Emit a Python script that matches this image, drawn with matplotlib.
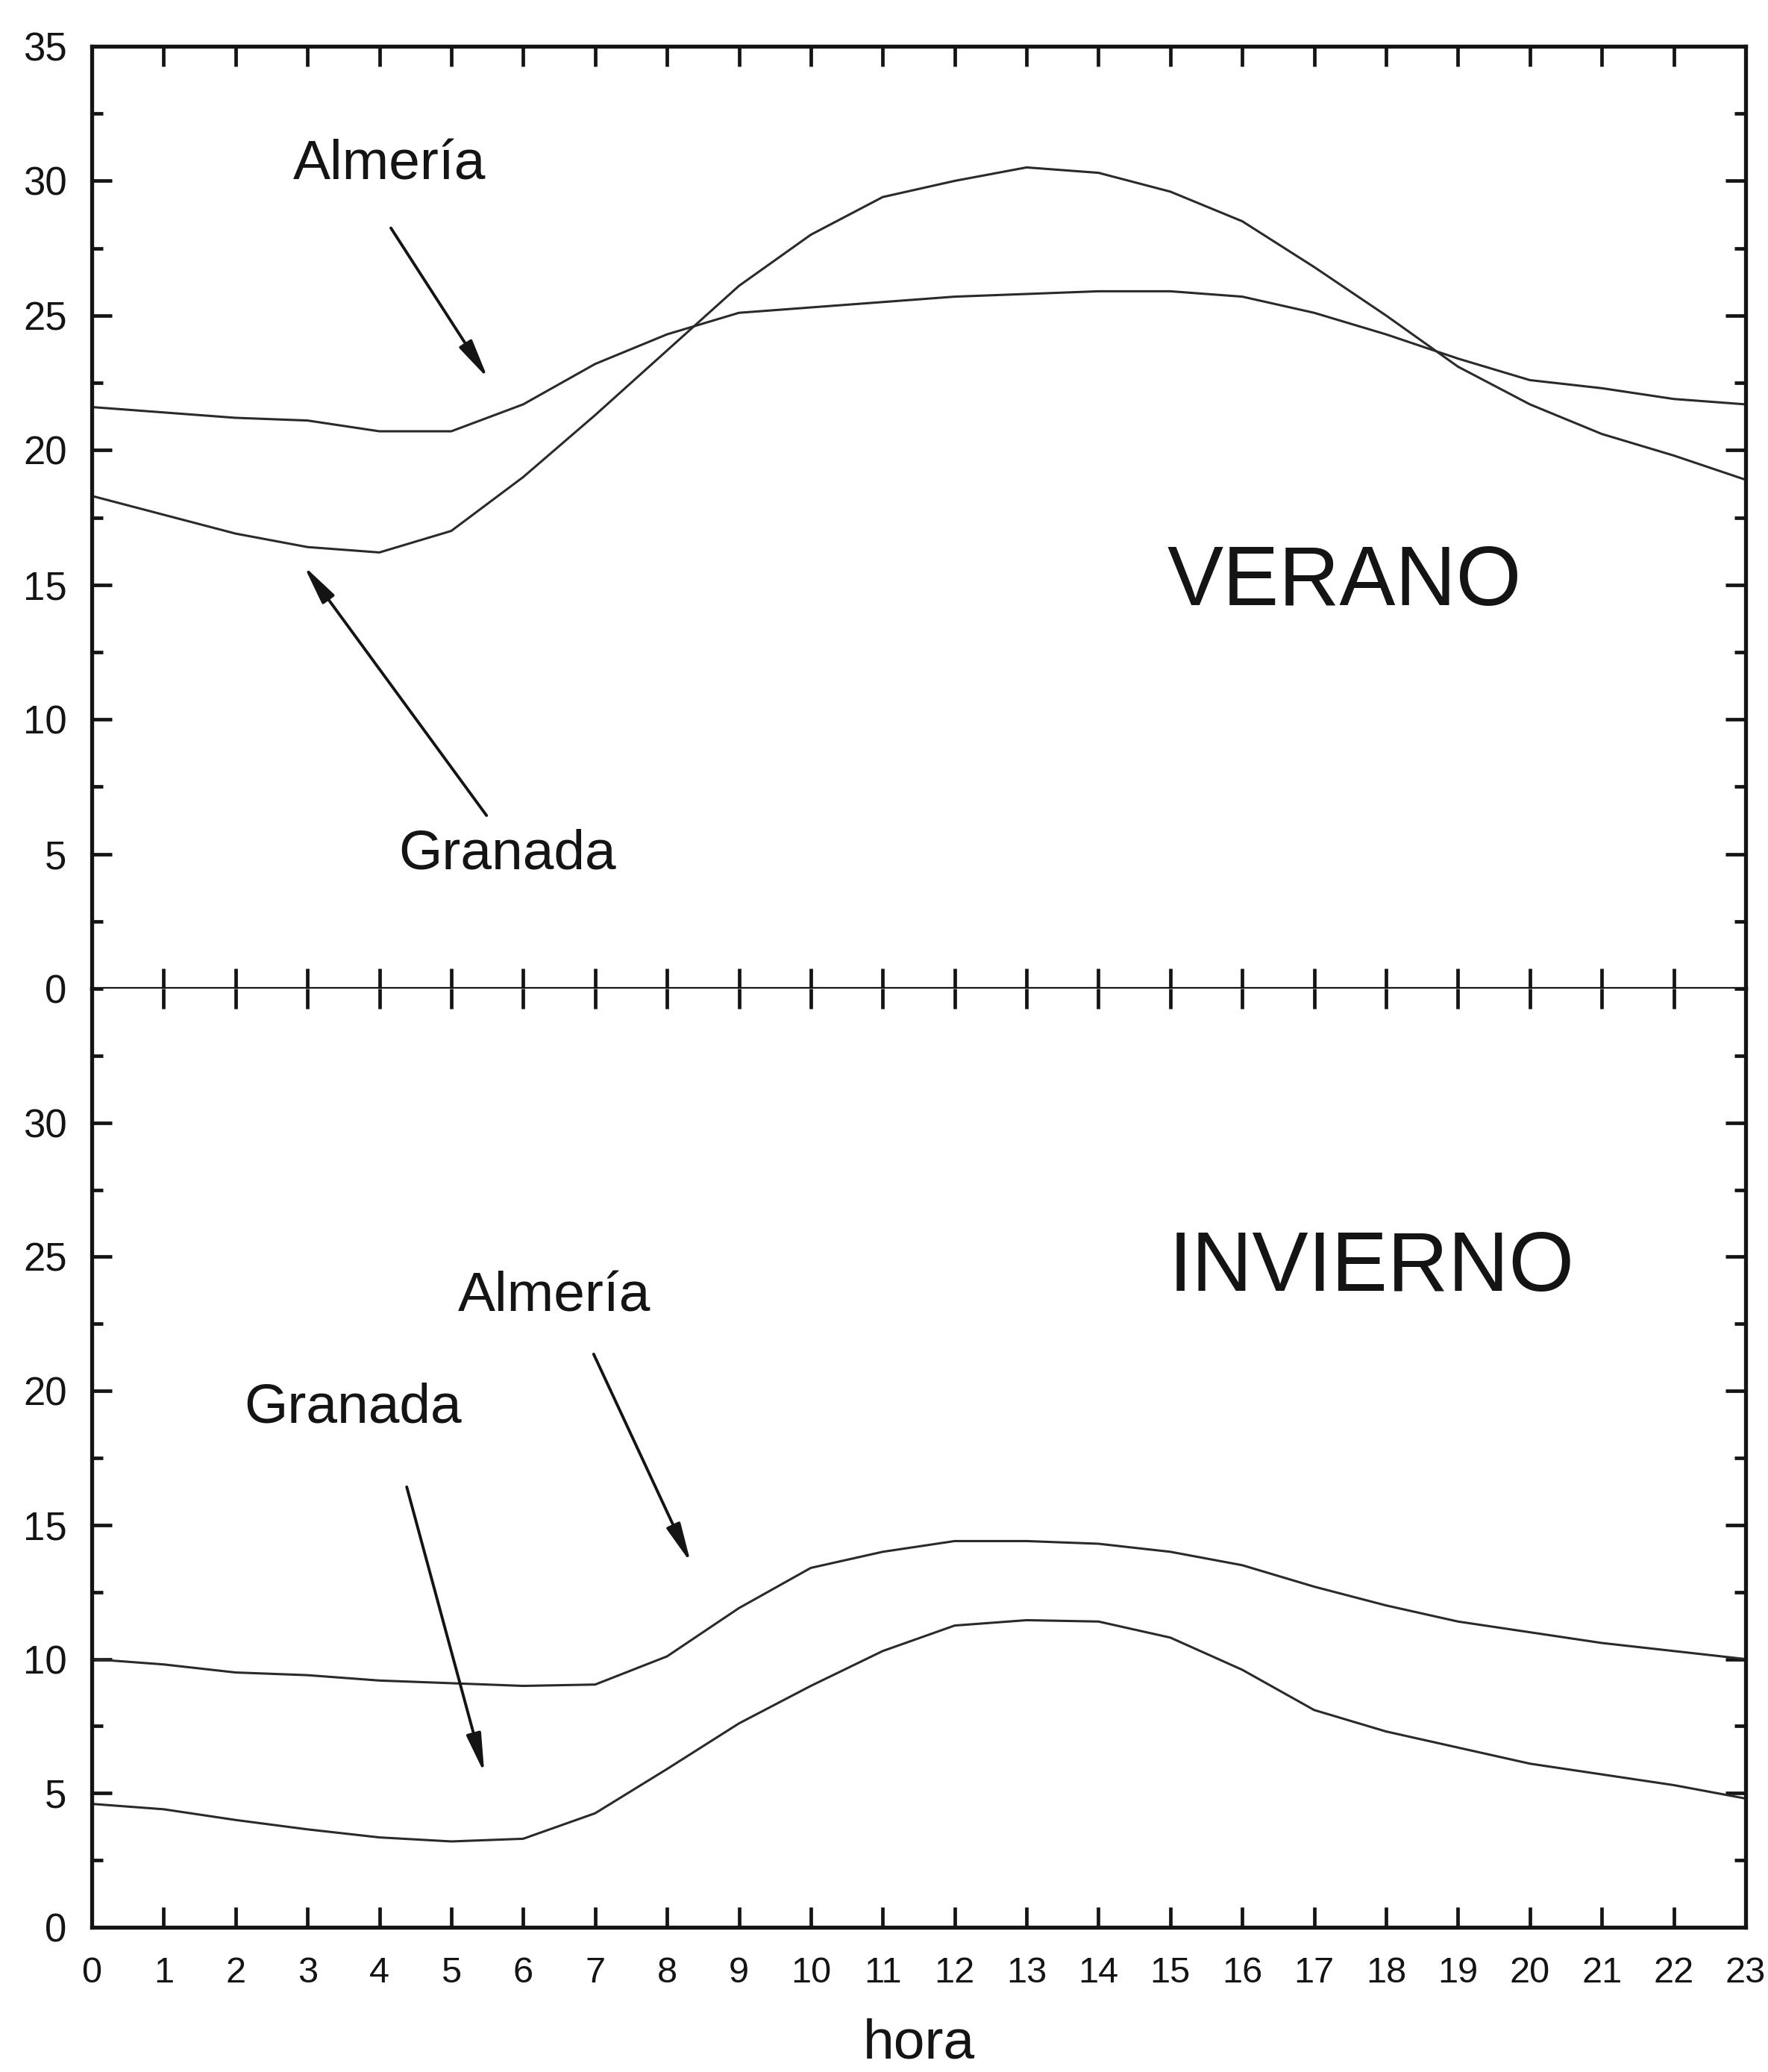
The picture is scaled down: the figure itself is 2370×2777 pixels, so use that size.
import matplotlib.pyplot as plt
from matplotlib.ticker import MultipleLocator

plt.rcParams['font.family'] = ['Liberation Sans', 'DejaVu Sans']

hora = list(range(24))

# verano (summer) temperatures by hour
almeria_verano = [21.6, 21.4, 21.2, 21.1, 20.7, 20.7, 21.7, 23.2, 24.3, 25.1, 25.3, 25.5,
                  25.7, 25.8, 25.9, 25.9, 25.7, 25.1, 24.3, 23.4, 22.6, 22.3, 21.9, 21.7]
granada_verano = [18.3, 17.6, 16.9, 16.4, 16.2, 17.0, 19.0, 21.3, 23.7, 26.1, 28.0, 29.4,
                  30.0, 30.5, 30.3, 29.6, 28.5, 26.8, 25.0, 23.1, 21.7, 20.6, 19.8, 18.9]

# invierno (winter) temperatures by hour
almeria_invierno = [10.0, 9.8, 9.5, 9.4, 9.2, 9.1, 9.0, 9.05, 10.1, 11.9, 13.4, 14.0,
                    14.4, 14.4, 14.3, 14.0, 13.5, 12.7, 12.0, 11.4, 11.0, 10.6, 10.3, 10.0]
granada_invierno = [4.6, 4.4, 4.0, 3.65, 3.35, 3.2, 3.3, 4.25, 5.9, 7.6, 9.0, 10.3,
                    11.25, 11.45, 11.4, 10.8, 9.6, 8.1, 7.3, 6.7, 6.1, 5.7, 5.3, 4.8]

INK = '#141414'
CURVE = '#2a2a2a'

fig = plt.figure(figsize=(23.7, 27.77), dpi=100)
L = 123 / 2370
W = (2340 - 123) / 2370
ax1 = fig.add_axes([L, 1 - 1325 / 2777, W, (1325 - 62) / 2777])
ax2 = fig.add_axes([L, 1 - 2583 / 2777, W, (2583 - 1325) / 2777])


def style(ax):
    ax.set_xlim(0, 23)
    ax.set_ylim(0, 35)
    for s in ax.spines.values():
        s.set_linewidth(3.8)
        s.set_color(INK)
    ax.xaxis.set_major_locator(MultipleLocator(1))
    ax.yaxis.set_major_locator(MultipleLocator(5))
    ax.yaxis.set_minor_locator(MultipleLocator(2.5))
    ax.tick_params(which='both', direction='in', left=True, right=True,
                   top=True, bottom=True, width=3.4, color=INK, labelcolor=INK)
    ax.tick_params(axis='y', which='major', length=19.5, pad=24, labelsize=38)
    ax.tick_params(axis='y', which='minor', length=11)
    ax.tick_params(axis='x', which='major', length=19.5, pad=28, labelsize=35)


style(ax1)
style(ax2)
ax1.tick_params(labelbottom=False)
ax2.spines['top'].set_visible(False)
ax2.set_yticks(range(0, 31, 5))

ax1.plot(hora, almeria_verano, color=CURVE, lw=2.2)
ax1.plot(hora, granada_verano, color=CURVE, lw=2.2)
ax2.plot(hora, almeria_invierno, color=CURVE, lw=2.2)
ax2.plot(hora, granada_invierno, color=CURVE, lw=2.2)

arrow = dict(arrowstyle='-|>,head_length=1.6,head_width=0.3', mutation_scale=20,
             color=INK, lw=2.8, shrinkA=0, shrinkB=0)

# top panel labels
ax1.text(4.14, 30.06, 'Almería', ha='center', va='baseline', fontsize=54, color=INK)
ax1.annotate('', xy=(5.51, 22.66), xytext=(4.16, 28.25), arrowprops=arrow)
ax1.text(5.78, 4.45, 'Granada', ha='center', va='baseline', fontsize=54, color=INK)
ax1.annotate('', xy=(2.95, 15.7), xytext=(5.49, 6.43), arrowprops=arrow)
ax1.text(17.42, 14.24, 'VERANO', ha='center', va='baseline', fontsize=81, color=INK)

# bottom panel labels
ax2.text(6.43, 22.98, 'Almería', ha='center', va='baseline', fontsize=54, color=INK)
ax2.annotate('', xy=(8.33, 13.59), xytext=(6.98, 21.37), arrowprops=arrow)
ax2.text(3.63, 18.81, 'Granada', ha='center', va='baseline', fontsize=54, color=INK)
ax2.annotate('', xy=(5.46, 5.74), xytext=(4.38, 16.42), arrowprops=arrow)
ax2.text(17.8, 23.73, 'INVIERNO', ha='center', va='baseline', fontsize=81, color=INK)

ax2.set_xlabel('hora', fontsize=54, color=INK, labelpad=27)

fig.savefig('out.png', dpi=100, facecolor='white')
